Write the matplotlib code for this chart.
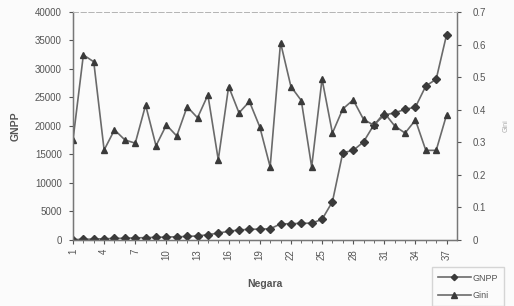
import matplotlib
matplotlib.use("Agg")
import matplotlib.pyplot as plt

negara = list(range(1, 38))
gnpp = [50, 100, 150, 200, 250, 300, 350, 400, 450, 500, 550, 600, 700, 900,
        1200, 1500, 1750, 1850, 1900, 1950, 2800, 2850, 2900, 2950, 3600,
        6700, 15300, 15700, 17200, 20200, 21900, 22300, 22900, 23300,
        27000, 28200, 36000]
gini = [0.307, 0.568, 0.547, 0.276, 0.338, 0.307, 0.297, 0.414, 0.289, 0.353,
        0.319, 0.409, 0.375, 0.445, 0.246, 0.471, 0.39, 0.425, 0.347, 0.224,
        0.606, 0.471, 0.428, 0.224, 0.494, 0.328, 0.402, 0.43, 0.37, 0.352,
        0.39, 0.35, 0.328, 0.368, 0.275, 0.275, 0.384]
xticks = list(range(1, 38, 3))

txt = "#555555"
line_c = "#6a6a6a"
mark_c = "#3a3a3a"

plt.rcParams["font.family"] = ["Liberation Sans", "DejaVu Sans"]

fig = plt.figure(figsize=(5.14, 3.06), dpi=100)
fig.patch.set_facecolor("#fbfbfb")
ax = fig.add_axes([0.142, 0.216, 0.747, 0.745])
ax.set_facecolor("#fbfbfb")
ax2 = ax.twinx()

l1, = ax.plot(negara, gnpp, color=line_c, lw=1.2, marker="D", ms=4,
              mfc=mark_c, mec=mark_c, label="GNPP")
l2, = ax2.plot(negara, gini, color=line_c, lw=1.2, marker="^", ms=5,
               mfc=mark_c, mec=mark_c, label="Gini")

ax.set_xlim(1, 38)
ax.set_ylim(0, 40000)
ax2.set_ylim(0, 0.7)
ax.set_yticks(range(0, 40001, 5000))
ax2.set_yticks([0, 0.1, 0.2, 0.3, 0.4, 0.5, 0.6, 0.7])
ax2.set_yticklabels(["0", "0.1", "0.2", "0.3", "0.4", "0.5", "0.6", "0.7"])
ax.set_xticks(xticks)
ax.set_xticklabels([str(t) for t in xticks], rotation=90)
ax.set_xticks(negara, minor=True)

for a in (ax, ax2):
    a.tick_params(labelsize=7, colors=txt, length=3, width=0.8)
    a.tick_params(which="minor", length=2, colors=txt)
    for s in a.spines.values():
        s.set_color("#777777")
        s.set_linewidth(0.9)
    a.spines["top"].set_linestyle((0, (5, 3)))
    a.spines["top"].set_color("#b5b5b5")
    a.spines["top"].set_linewidth(0.7)
ax.spines["left"].set_color("#555555")
ax.spines["bottom"].set_color("#555555")
ax2.tick_params(axis="y", pad=8)
ax.tick_params(axis="y", pad=5)

ax.set_ylabel("GNPP", fontsize=7.5, color=txt, fontweight="bold", labelpad=10)
ax.set_xlabel("Negara", fontsize=7.5, color=txt, fontweight="bold", labelpad=14)
ax2.set_ylabel("Gini", fontsize=5, color="#aaaaaa", labelpad=12)

leg = fig.legend(handles=[l1, l2], loc="lower right",
                 bbox_to_anchor=(0.99, -0.015), fontsize=6.5, frameon=True,
                 handlelength=3.6, labelspacing=0.9, borderpad=0.7,
                 handletextpad=0.2, markerscale=0.8)
leg.get_frame().set_edgecolor("#cccccc")
leg.get_frame().set_facecolor("#fbfbfb")
leg.get_frame().set_boxstyle("square", pad=0)
for t in leg.get_texts():
    t.set_color(txt)

fig.savefig("out.png", dpi=100, facecolor=fig.get_facecolor())
